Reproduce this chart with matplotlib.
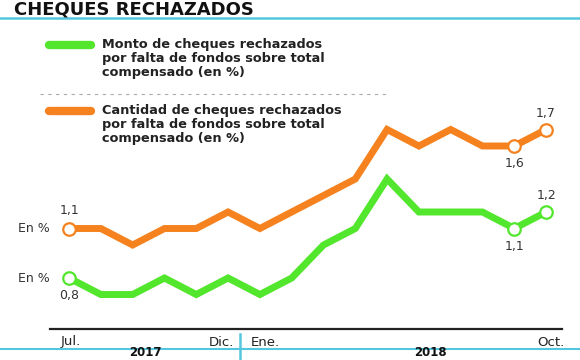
import matplotlib.pyplot as plt
import matplotlib.transforms as mtransforms

# months Jul 2017 .. Oct 2018
months = ['Jul', 'Ago', 'Sep', 'Oct', 'Nov', 'Dic', 'Ene', 'Feb', 'Mar', 'Abr',
          'May', 'Jun', 'Jul', 'Ago', 'Sep', 'Oct']
monto = [0.8, 0.7, 0.7, 0.8, 0.7, 0.8, 0.7, 0.8, 1.0, 1.1, 1.4, 1.2, 1.2, 1.2, 1.1, 1.2]
cantidad = [1.1, 1.1, 1.0, 1.1, 1.1, 1.2, 1.1, 1.2, 1.3, 1.4, 1.7, 1.6, 1.7, 1.6, 1.6, 1.7]
tick_idx = [0, 5, 6, 15]
tick_labels = ['Jul.', 'Dic.', 'Ene.', 'Oct.']
years = ['2017', '2018']

GREEN = '#52e62c'
ORANGE = '#f5821f'
BLUE = '#55c6df'
W, H = 580, 360


def fx(x):
    return x / W


def fy(y):
    return 1 - y / H


fig = plt.figure(figsize=(5.8, 3.6), dpi=100)
ax = fig.add_axes([fx(50), fy(329), fx(562) - fx(50), fy(30) - fy(329)])
ax.set_xlim(-0.6, 15.5)
ax.set_ylim(0.491, 2.303)
for s in ['top', 'right', 'left']:
    ax.spines[s].set_visible(False)
ax.spines['bottom'].set_color('#222222')
ax.spines['bottom'].set_linewidth(1.6)
ax.set_xticks([])
ax.set_yticks([])

x = list(range(len(months)))
ax.plot(x, cantidad, color=ORANGE, lw=5, solid_joinstyle='miter', zorder=3)
ax.plot(x, monto, color=GREEN, lw=5, solid_joinstyle='miter', zorder=3)
mk = [0, 14, 15]
for ser, col in [(cantidad, ORANGE), (monto, GREEN)]:
    ax.plot([x[i] for i in mk], [ser[i] for i in mk], 'o', ms=9, mfc='white',
            mec=col, mew=1.6, zorder=4, clip_on=False)

lab = dict(fontsize=9, color='#333333', ha='center')
def fmt(v):
    return f'{v:.1f}'.replace('.', ',')

ax.annotate(fmt(cantidad[0]), (0, cantidad[0]), xytext=(0, 8), textcoords='offset points', va='bottom', **lab)
ax.annotate(fmt(monto[0]), (0, monto[0]), xytext=(0, -8), textcoords='offset points', va='top', **lab)
ax.annotate(fmt(cantidad[14]), (14, cantidad[14]), xytext=(0, -8), textcoords='offset points', va='top', **lab)
ax.annotate(fmt(cantidad[15]), (15, cantidad[15]), xytext=(0, 7), textcoords='offset points', va='bottom', **lab)
ax.annotate(fmt(monto[14]), (14, monto[14]), xytext=(0, -8), textcoords='offset points', va='top', **lab)
ax.annotate(fmt(monto[15]), (15, monto[15]), xytext=(0, 7), textcoords='offset points', va='bottom', **lab)

for ser in [cantidad, monto]:
    ax.annotate('En %', (0, ser[0]), xytext=(-14, 0), textcoords='offset points',
                ha='right', va='center', fontsize=9, color='#333333')

# month labels under the axis
bt = mtransforms.blended_transform_factory(ax.transData, fig.transFigure)
aligns = {'Jul.': 'center', 'Dic.': 'right', 'Ene.': 'left', 'Oct.': 'center'}
offs = {'Jul.': 0.05, 'Dic.': 0.2, 'Ene.': -0.3, 'Oct.': 0.15}
for i, t in zip(tick_idx, tick_labels):
    ax.text(i + offs[t], fy(342), t, transform=bt, ha=aligns[t], va='center',
            fontsize=9.5, color='#222222')

# year band
fig.add_artist(plt.Line2D([0, 1], [fy(349), fy(349)], color=BLUE, lw=1.5))
fig.add_artist(plt.Line2D([fx(240), fx(240)], [fy(334), 0], color=BLUE, lw=1.8))
fig.text(fx(145), fy(359.5), years[0], ha='center', va='bottom', fontsize=8.5, fontweight='bold', color='#111111')
fig.text(fx(430), fy(359.5), years[1], ha='center', va='bottom', fontsize=8.5, fontweight='bold', color='#111111')

# title
fig.text(fx(14), fy(14.5), 'CHEQUES RECHAZADOS', ha='left', va='baseline',
         fontsize=13, fontweight='heavy', color='#111111')
fig.add_artist(plt.Line2D([0, 1], [fy(18), fy(18)], color=BLUE, lw=1.8))

# legend
fig.add_artist(plt.Line2D([fx(49), fx(91)], [fy(45), fy(45)], color=GREEN, lw=6, solid_capstyle='round'))
fig.add_artist(plt.Line2D([fx(49), fx(91)], [fy(111), fy(111)], color=ORANGE, lw=6, solid_capstyle='round'))
fig.text(fx(102), fy(38), 'Monto de cheques rechazados\npor falta de fondos sobre total\ncompensado (en %)',
         ha='left', va='top', fontsize=9.3, fontweight='bold', color='#222222', linespacing=1.1)
fig.text(fx(102), fy(104), 'Cantidad de cheques rechazados\npor falta de fondos sobre total\ncompensado (en %)',
         ha='left', va='top', fontsize=9.3, fontweight='bold', color='#222222', linespacing=1.1)
fig.add_artist(plt.Line2D([fx(40), fx(388)], [fy(94), fy(94)], color='#aaaaaa', lw=0.8, ls=(0, (3, 4))))

fig.savefig('out.png', dpi=100)
